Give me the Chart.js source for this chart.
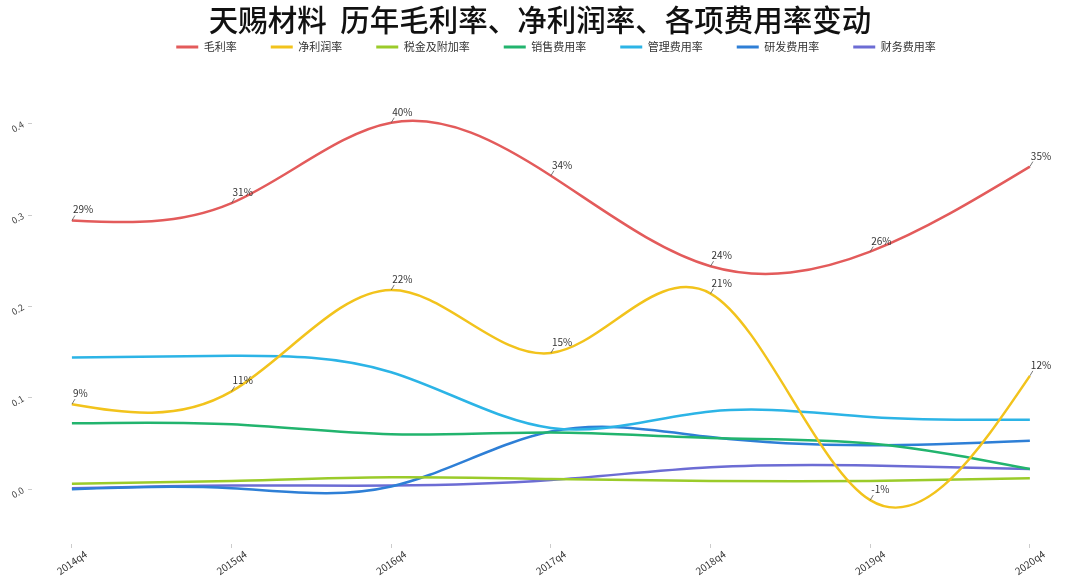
<!DOCTYPE html>
<html lang="zh">
<head>
  <meta charset="UTF-8" />
  <title>天赐材料 历年毛利率、净利润率、各项费用率变动</title>
  <script src="https://cdn.jsdelivr.net/npm/chart.js"></script>
  <style>
    html, body { margin: 0; padding: 0; background: #fff; }
    #wrap { width: 1080px; height: 577px; }
  </style>
</head>
<body>
<div id="wrap"><canvas id="rateChart"></canvas></div>
<script>
  // data
  const quarters = ['2014q4', '2015q4', '2016q4', '2017q4', '2018q4', '2019q4', '2020q4'];
  const grossMargin   = [0.294, 0.313, 0.401, 0.343, 0.244, 0.260, 0.353];
  const netMargin     = [0.093, 0.107, 0.218, 0.149, 0.214, -0.012, 0.124];
  const taxRate       = [0.006, 0.009, 0.013, 0.011, 0.009, 0.009, 0.012];
  const sellingRate   = [0.072, 0.071, 0.060, 0.062, 0.056, 0.050, 0.022];
  const adminRate     = [0.144, 0.146, 0.128, 0.067, 0.085, 0.079, 0.076];
  const rdRate        = [0.000, 0.001, 0.003, 0.063, 0.057, 0.048, 0.053];
  const financeRate   = [0.001, 0.004, 0.004, 0.010, 0.024, 0.026, 0.022];
  const yTicks = [0, 0.1, 0.2, 0.3, 0.4];

  const seriesNames  = ['毛利率', '净利润率', '税金及附加率', '销售费用率', '管理费用率', '研发费用率', '财务费用率'];
  const seriesValues = [grossMargin, netMargin, taxRate, sellingRate, adminRate, rdRate, financeRate];
  const seriesColors = ['#e35b5b', '#f2c31c', '#9bcb2a', '#22b46e', '#2cb4e6', '#2e7fd6', '#6c6cd4'];
  const labelledSeries = [0, 1];   // only these get % labels

  Chart.defaults.font.family = "'Noto Sans CJK SC', 'Noto Sans', sans-serif";

  // natural cubic spline slopes for evenly spaced points
  function naturalSlopes(xs, ys) {
    const n = xs.length - 1;
    const h = (xs[n] - xs[0]) / n;
    const M = new Array(n + 1).fill(0);
    const cp = [], dp = [];
    for (let i = 1; i < n; i++) {
      const r = 6 * (ys[i + 1] - 2 * ys[i] + ys[i - 1]) / (h * h);
      const denom = 4 - (i > 1 ? cp[i - 1] : 0);
      cp[i] = 1 / denom;
      dp[i] = (r - (i > 1 ? dp[i - 1] : 0)) / denom;
    }
    for (let i = n - 1; i >= 1; i--) M[i] = dp[i] - cp[i] * M[i + 1];
    const d = [];
    for (let i = 0; i < n; i++) d[i] = (ys[i + 1] - ys[i]) / h - h * (2 * M[i] + M[i + 1]) / 6;
    d[n] = (ys[n] - ys[n - 1]) / h + h * (M[n - 1] + 2 * M[n]) / 6;
    return d;
  }

  // swap chart.js control points for natural spline ones
  const naturalSpline = {
    id: 'naturalSpline',
    beforeDatasetsDraw(chart) {
      chart.data.datasets.forEach((ds, di) => {
        const meta = chart.getDatasetMeta(di);
        const pts = meta.data;
        if (!meta.dataset || pts.length < 3) return;
        const xs = pts.map(p => p.x);
        const ys = pts.map(p => p.y);
        const h = (xs[xs.length - 1] - xs[0]) / (xs.length - 1);
        const d = naturalSlopes(xs, ys);
        pts.forEach((p, i) => {
          p.cp1x = p.x - h / 3; p.cp1y = p.y - d[i] * h / 3;
          p.cp2x = p.x + h / 3; p.cp2y = p.y + d[i] * h / 3;
        });
        meta.dataset._pointsUpdated = true;
        meta.dataset._path = undefined;
      });
    }
  };

  const pointLabels = {
    id: 'pointLabels',
    afterDatasetsDraw(chart) {
      const ctx = chart.ctx;
      ctx.save();
      ctx.font = "10px 'Noto Sans CJK SC', sans-serif";
      ctx.fillStyle = '#333';
      ctx.strokeStyle = '#555';
      ctx.lineWidth = 0.8;
      ctx.textAlign = 'left';
      ctx.textBaseline = 'alphabetic';
      labelledSeries.forEach(di => {
        const meta = chart.getDatasetMeta(di);
        meta.data.forEach((p, i) => {
          ctx.beginPath();
          ctx.moveTo(p.x, p.y);
          ctx.lineTo(p.x + 3, p.y - 5);
          ctx.stroke();
          ctx.fillText(Math.round(seriesValues[di][i] * 100) + '%', p.x + 1, p.y - 7);
        });
      });
      ctx.restore();
    }
  };

  const datasets = seriesNames.map((name, k) => ({
    label: name,
    data: seriesValues[k].map((v, i) => ({ x: i, y: v })),
    borderColor: seriesColors[k],
    backgroundColor: seriesColors[k],
    borderWidth: 2.5,
    pointRadius: 0,
    pointHoverRadius: 0,
    tension: 0.4,
    fill: false
  }));

  new Chart(document.getElementById('rateChart'), {
    type: 'line',
    data: { datasets: datasets },
    plugins: [naturalSpline, pointLabels],
    options: {
      responsive: true,
      maintainAspectRatio: false,
      animation: false,
      layout: { padding: 0 },
      plugins: {
        title: {
          display: true,
          text: '天赐材料  历年毛利率、净利润率、各项费用率变动',
          color: '#111',
          font: { size: 29.5, weight: 500 },
          padding: { top: 2, bottom: -30 }
        },
        legend: {
          position: 'top',
          fullSize: false,
          labels: {
            boxWidth: 22,
            boxHeight: 3,
            padding: 34,
            color: '#333',
            font: { size: 11 },
            generateLabels: chart => Chart.defaults.plugins.legend.labels.generateLabels(chart).map(l =>
              Object.assign(l, { lineWidth: 0, fillStyle: seriesColors[l.datasetIndex], strokeStyle: seriesColors[l.datasetIndex] }))
          }
        },
        tooltip: { enabled: false }
      },
      scales: {
        x: {
          type: 'linear',
          min: -0.25,
          max: 6.314,
          afterBuildTicks: s => { s.ticks = quarters.map((q, i) => ({ value: i })); },
          afterFit: s => { s.height = 33; },
          border: { display: false },
          grid: { drawOnChartArea: false, tickLength: 4, color: '#ccc' },
          ticks: {
            autoSkip: false,
            minRotation: 35,
            maxRotation: 35,
            labelOffset: 14,
            padding: 0,
            color: '#333',
            font: { size: 10 },
            callback: v => quarters[v] || ''
          }
        },
        y: {
          min: -0.06,
          max: 0.467,
          afterBuildTicks: s => { s.ticks = yTicks.map(v => ({ value: v })); },
          afterFit: s => { s.width = 32; },
          border: { display: false },
          grid: { drawOnChartArea: false, tickLength: 4, color: '#ccc' },
          ticks: {
            minRotation: 30,
            maxRotation: 30,
            padding: 5,
            color: '#444',
            font: { size: 9 },
            callback: v => v.toFixed(1)
          }
        }
      }
    }
  });
</script>
</body>
</html>
